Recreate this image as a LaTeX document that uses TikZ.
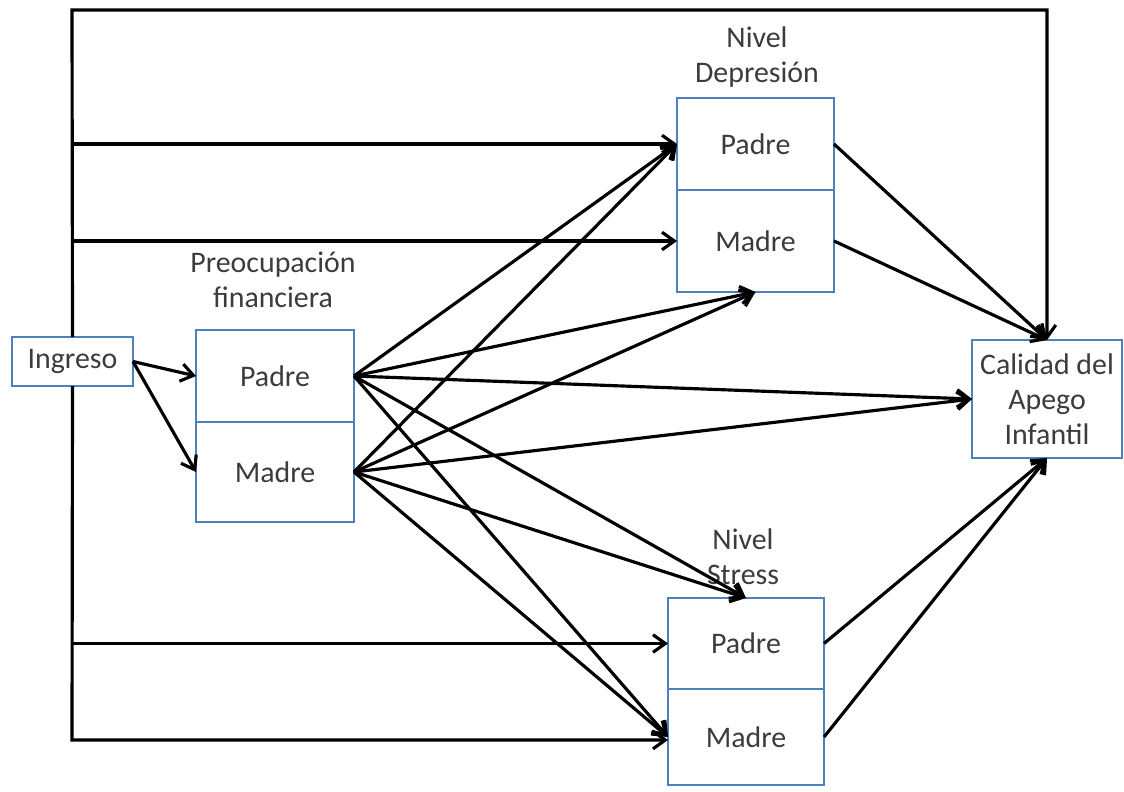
\documentclass[tikz,border=0pt]{standalone}
\usepackage{fontspec}
\setmainfont{Carlito}
\usepackage{tikz}
\usetikzlibrary{arrows.meta,positioning}
\definecolor{bordeazul}{RGB}{79,129,189}
\definecolor{texto}{RGB}{60,60,60}
\tikzset{
    >={Straight Barb[length=7pt,width=10pt]},
    celda/.style={
      rectangle,
      draw=bordeazul, line width=1.3pt,
      fill=white,
      text=texto,
      inner sep=0pt, outer sep=0pt,
      font=\fontsize{17}{20}\selectfont},
    titulo/.style={
      align=center,
      text=texto,
      font=\fontsize{17}{20}\selectfont},
    flecha/.style={draw, line width=1.8pt, ->},
}

\begin{document}
\begin{tikzpicture}[x=0.02cm, y=-0.02cm]
  \useasboundingbox (0,0) rectangle (1124,791);
  % bloques
  \node[celda, minimum width=2.42cm, minimum height=0.98cm] (ingreso) at (72.5,361.5) {Ingreso};
  \node[celda, minimum width=3.16cm, minimum height=1.84cm] (preoPadre) at (275,376) {Padre};
  \node[celda, minimum width=3.16cm, minimum height=2cm, below=0pt of preoPadre] (preoMadre) {Madre};
  \node[celda, minimum width=3.14cm, minimum height=1.84cm] (depPadre) at (755.5,144) {Padre};
  \node[celda, minimum width=3.14cm, minimum height=2.04cm, below=0pt of depPadre] (depMadre) {Madre};
  \node[celda, minimum width=3.12cm, minimum height=1.82cm] (strPadre) at (746,643.5) {Padre};
  \node[celda, minimum width=3.12cm, minimum height=1.92cm, below=0pt of strPadre] (strMadre) {Madre};
  \node[celda, align=center, minimum width=3cm, minimum height=2.36cm] (calidad) at (1047,399) {Calidad del\\Apego\\Infantil};
  % titulos
  \node[titulo] (preoTitulo) at (273,280) {Preocupación\\financiera};
  \node[titulo] (depTitulo) at (757,57) {Nivel\\Depresión};
  \node[titulo] (strTitulo) at (743,557) {Nivel\\Stress};
  \coordinate (arriba) at (72,10);
  \coordinate (abajo) at (72,740);
  % ingreso
  \draw[flecha] (ingreso.north) -- (arriba) -| (calidad.north);
  \draw[flecha] (ingreso.south) -- (abajo) -- (abajo -| strMadre.west);
  \draw[flecha] (ingreso.north |- depPadre.west) -- (depPadre.west);
  \draw[flecha] (ingreso.north |- depMadre.west) -- (depMadre.west);
  \draw[flecha] (ingreso.south |- strPadre.west) -- (strPadre.west);
  \draw[flecha] (ingreso.east) -- (preoPadre.west);
  \draw[flecha] (ingreso.east) -- (preoMadre.west);
  % preocupacion financiera
  \draw[flecha] (preoPadre.east) -- (depPadre.west);
  \draw[flecha] (preoPadre.east) -- (depMadre.south);
  \draw[flecha] (preoPadre.east) -- (calidad.west);
  \draw[flecha] (preoPadre.east) -- (strPadre.north);
  \draw[flecha] (preoPadre.east) -- (strMadre.west);
  \draw[flecha] (preoMadre.east) -- (depPadre.west);
  \draw[flecha] (preoMadre.east) -- (depMadre.south);
  \draw[flecha] (preoMadre.east) -- (calidad.west);
  \draw[flecha] (preoMadre.east) -- (strPadre.north);
  \draw[flecha] (preoMadre.east) -- (strMadre.west);
  % depresion y stress
  \draw[flecha] (depPadre.east) -- (calidad.north);
  \draw[flecha] (depMadre.east) -- (calidad.north);
  \draw[flecha] (strPadre.east) -- (calidad.south);
  \draw[flecha] (strMadre.east) -- (calidad.south);
\end{tikzpicture}
\end{document}
